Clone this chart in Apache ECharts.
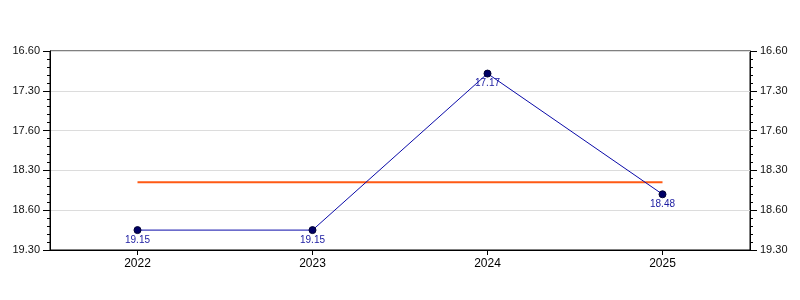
<!DOCTYPE html>
<html><head><meta charset="utf-8">
<script src="https://cdn.jsdelivr.net/npm/echarts@6/dist/echarts.min.js"></script>
<style>html,body{margin:0;padding:0;background:#fff}#c{width:800px;height:300px}</style>
</head><body><div id="c"></div>
<script>
// Categories and values (times shown as minutes.seconds, e.g. 19.15 = 19 min 15 s)
var years = ["2022", "2023", "2024", "2025"];
var times = ["19.15", "19.15", "17.17", "18.48"];
var averageTime = "18.39";
var tickLabels = ["16.60", "17.30", "17.60", "18.30", "18.60", "19.30"];
var axisMinSec = 1020, axisMaxSec = 1170, tickStepSec = 30;

function toSec(t) { var p = t.split("."); return parseInt(p[0], 10) * 60 + parseInt(p[1], 10); }
var secs = times.map(toSec);
var avgSec = toSec(averageTime);
var avgData = years.map(function () { return avgSec; });

function fmt(v) {
  var i = Math.round((v - axisMinSec) / tickStepSec);
  return tickLabels[i] !== undefined ? tickLabels[i] : "";
}
var font = "Liberation Sans, Arial, sans-serif";
function yAx(pos) {
  return {
    type: "value", position: pos, inverse: true,
    min: axisMinSec, max: axisMaxSec, interval: tickStepSec,
    axisLine: { show: true, lineStyle: { color: "#000", width: 1 } },
    axisTick: { show: true, inside: false, length: 7, lineStyle: { color: "#000" } },
    minorTick: { show: true, splitNumber: 5, length: 3, lineStyle: { color: "#000" } },
    axisLabel: { formatter: fmt, color: "#111", fontSize: 11, fontFamily: font, margin: 10 },
    splitLine: { show: pos === "left", lineStyle: { color: "#dcdcdc", width: 1 } }
  };
}
var chart = echarts.init(document.getElementById("c"), null, { renderer: "canvas" });
chart.setOption({
  animation: false,
  grid: { left: 50, right: 50, top: 51, bottom: 50, show: true, borderColor: "#000", borderWidth: 1, backgroundColor: "transparent" },
  xAxis: {
    type: "category", data: years, boundaryGap: true,
    axisLine: { show: true, lineStyle: { color: "#000" } },
    axisTick: { show: true, alignWithLabel: true, length: 5, lineStyle: { color: "#000" } },
    axisLabel: { color: "#000", fontSize: 12, fontFamily: font, margin: 8 },
    splitLine: { show: false }
  },
  yAxis: [yAx("left"), yAx("right")],
  series: [
    {
      type: "line", data: avgData, symbol: "none", z: 2,
      lineStyle: { color: "#ff5a14", width: 2 }
    },
    {
      type: "line", data: secs, z: 3,
      symbol: "circle", symbolSize: 7,
      itemStyle: { color: "#000066", borderColor: "#000033", borderWidth: 1 },
      lineStyle: { color: "#0a0aa8", width: 1 },
      label: {
        show: true, position: "bottom", distance: 1,
        color: "#1a1aa0", fontSize: 10, fontFamily: font,
        formatter: function (p) { return times[p.dataIndex]; }
      }
    }
  ]
});
</script></body></html>
